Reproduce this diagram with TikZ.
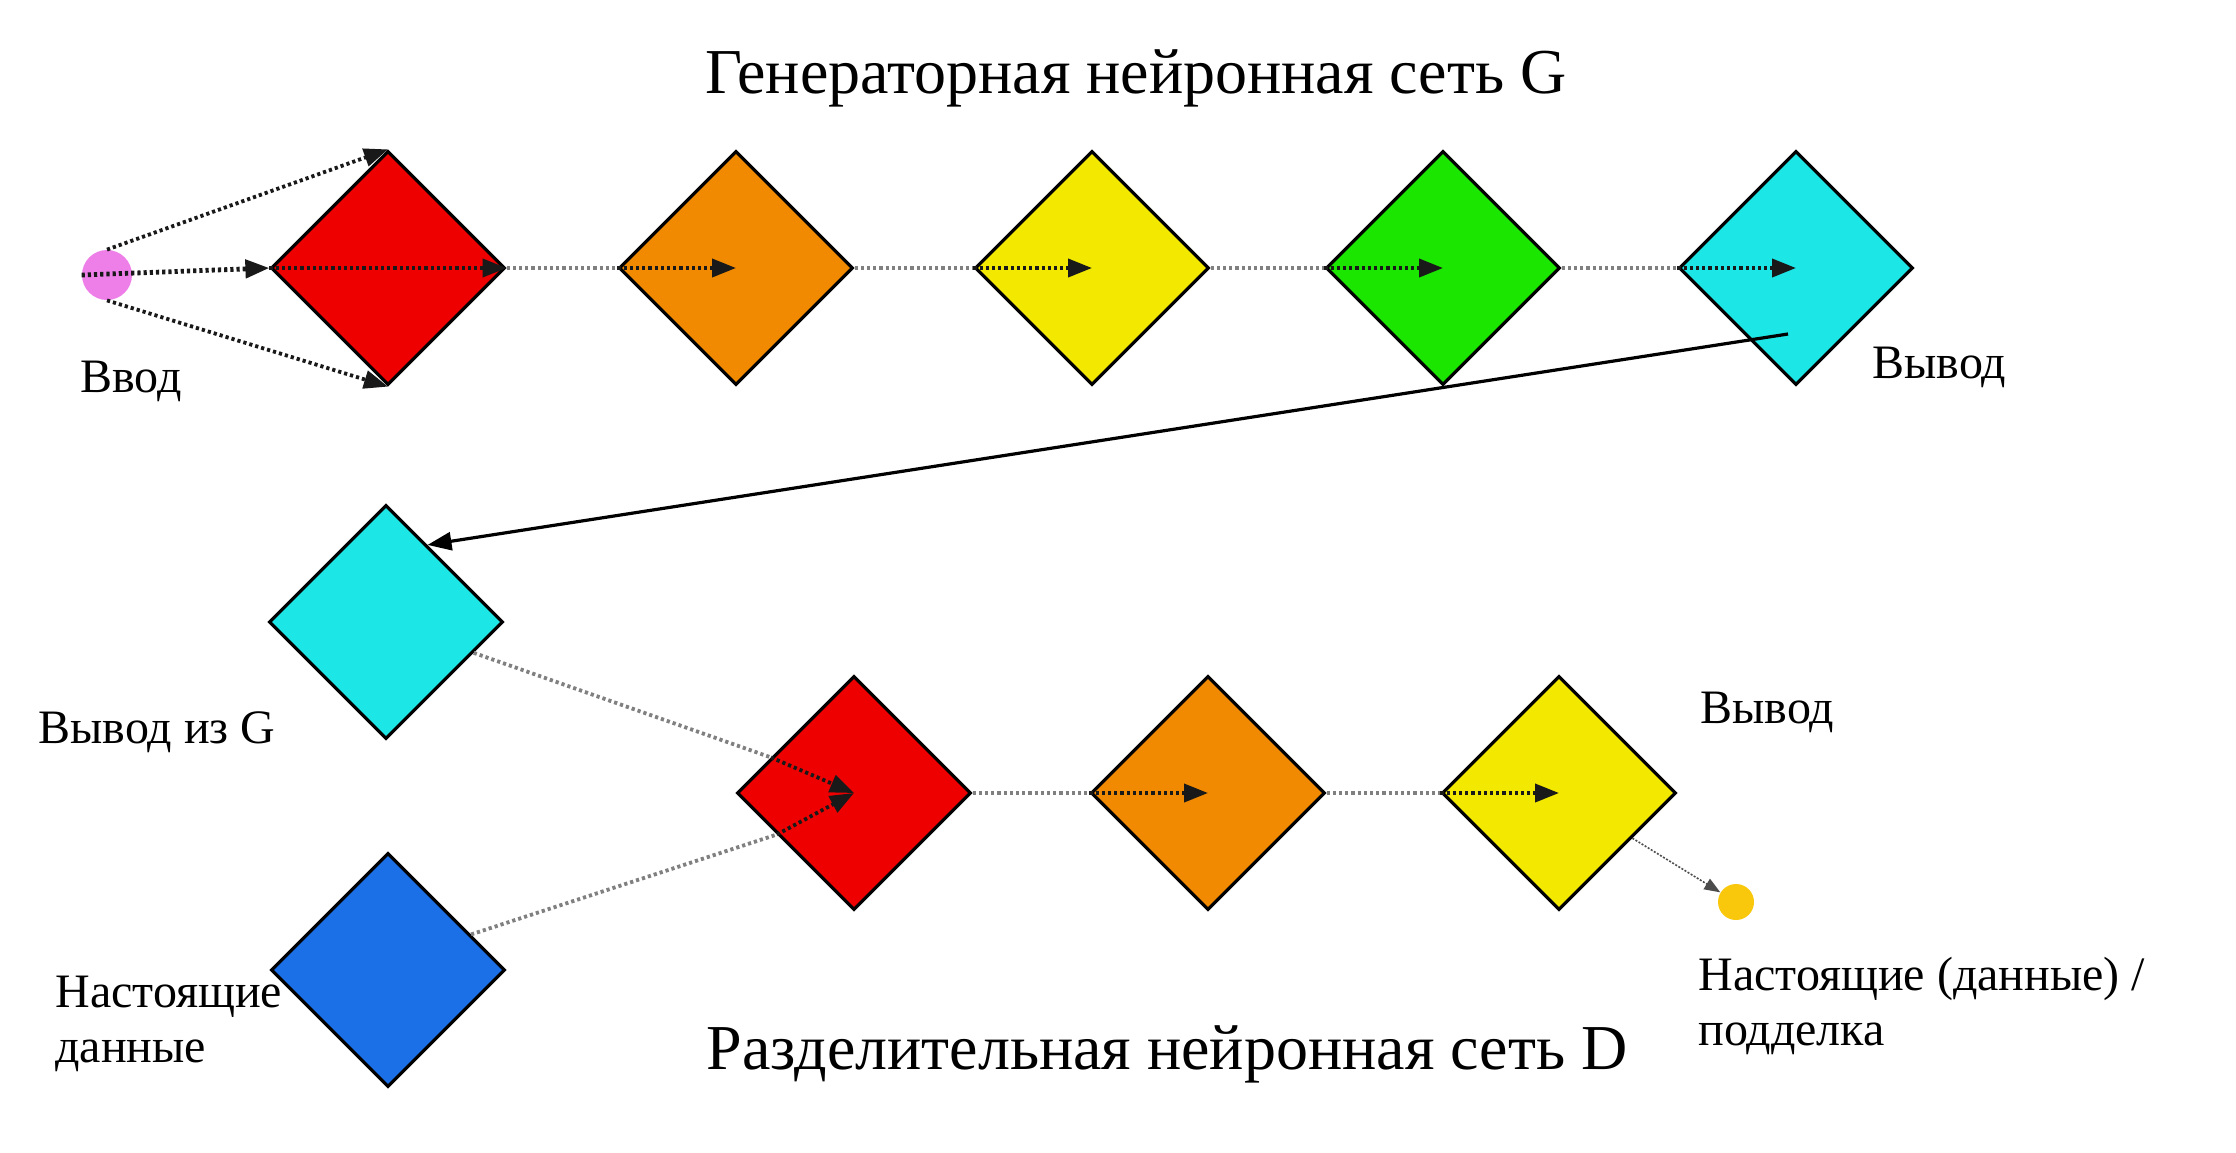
\documentclass[tikz,border=0pt]{standalone}
\usepackage{fontspec}
\setmainfont{Liberation Serif}
\usetikzlibrary{shapes.geometric,arrows.meta,calc}
\definecolor{cred}{HTML}{EE0000}
\definecolor{corange}{HTML}{F18A00}
\definecolor{cyellow}{HTML}{F2E800}
\definecolor{cgreen}{HTML}{1BE600}
\definecolor{ccyan}{HTML}{1CE6E6}
\definecolor{cblue}{HTML}{1B70E8}
\definecolor{cpink}{HTML}{EE7FE8}
\definecolor{cgold}{HTML}{F9C70C}
\tikzset{
  layer/.style={diamond, draw=black, line width=1.6pt, minimum width=117pt, minimum height=117pt, inner sep=0pt, aspect=1},
  dotline/.style={line width=1.9pt, dash pattern=on 1.6pt off 1.5pt},
  dotarrow/.style={dotline, black!90, -{Triangle[length=12pt,width=9pt]}},
  link/.style={dotline, black!50},
  solidarrow/.style={line width=1.6pt, black, -{Triangle[length=12pt,width=9pt]}},
  thinarrow/.style={line width=0.8pt, black!70, dash pattern=on 1pt off 0.8pt, -{Triangle[length=8pt,width=6pt]}},
  lbl/.style={font=\fontsize{24pt}{27.5pt}\selectfont, inner sep=0pt, anchor=base west, align=left},
  ttl/.style={font=\fontsize{32pt}{40pt}\selectfont, inner sep=0pt, anchor=base},
}
\begin{document}
\begin{tikzpicture}[x=0.5pt,y=-0.5pt]
\useasboundingbox (0,0) rectangle (2236,1152);
\fill[white] (0,0) rectangle (2236,1152);

% titles
\node[ttl] (tG) at (1136,93) {Генераторная нейронная сеть G};
\node[ttl] (tD) at (1167,1069) {Разделительная нейронная сеть D};

% generator
\node[circle, fill=cpink, minimum size=25pt, inner sep=0pt] (in) at (107,275) {};
\node[layer, fill=cred] (r1) at (388,268) {};
\node[layer, fill=corange] (o1) at (736,268) {};
\node[layer, fill=cyellow] (y1) at (1092,268) {};
\node[layer, fill=cgreen] (g1) at (1443,268) {};
\node[layer, fill=ccyan] (c1) at (1796,268) {};

% discriminator
\node[layer, fill=ccyan] (c2) at (386,622) {};
\node[layer, fill=cblue] (bl) at (388,970) {};
\node[layer, fill=cred] (r2) at (854,793) {};
\node[layer, fill=corange] (o2) at (1208,793) {};
\node[layer, fill=cyellow] (y2) at (1559,793) {};
\node[circle, fill=cgold, minimum size=18pt, inner sep=0pt] (out) at (1736,902) {};

% labels
\node[lbl] (lin) at (80,392) {Ввод};
\node[lbl] (lout1) at (1872,378) {Вывод};
\node[lbl] (lg) at (38,743) {Вывод из G};
\node[lbl] (lout2) at (1700,723) {Вывод};
\node[lbl] (lreal) at (55,1062) {Настоящие\\данные};
\node[lbl] (lres) at (1698,1045) {Настоящие (данные) /\\подделка};

% generator connectors
\draw[dotarrow] (in.north) -- (r1.north);
\draw[dotarrow] (in.south) -- (r1.south);
\draw[dotarrow, line width=2.4pt] (in.west) -- (r1.west);
\draw[dotarrow] (r1.west) -- (r1.east);
\draw[link] (r1.east) -- (o1.west);
\draw[dotarrow] (o1.west) -- (o1.center);
\draw[link] (o1.east) -- (y1.west);
\draw[dotarrow] (y1.west) -- (y1.center);
\draw[link] (y1.east) -- (g1.west);
\draw[dotarrow] (g1.west) -- (g1.center);
\draw[link] (g1.east) -- (c1.west);
\draw[dotarrow] (c1.west) -- (c1.center);

% generator output to discriminator
\coordinate (c1out) at ($(c1.center)+(-8,66)$);
\draw[solidarrow] (c1out) -- ($(c2.north)!0.35!(c2.east)$);

% discriminator connectors
\draw[link] ($(c2.east)!0.26!(c2.south)$) -- ($(r2.west)!0.3!(r2.north)$);
\draw[dotarrow] ($(r2.west)!0.3!(r2.north)$) -- (r2.center);
\draw[link] ($(bl.east)!0.3!(bl.north)$) -- ($(r2.west)!0.35!(r2.south)$);
\draw[dotarrow] ($(r2.west)!0.35!(r2.south)$) -- (r2.center);
\draw[link] (r2.east) -- (o2.west);
\draw[dotarrow] (o2.west) -- (o2.center);
\draw[link] (o2.east) -- (y2.west);
\draw[dotarrow] (y2.west) -- (y2.center);
\draw[thinarrow] (y2) -- (out);
\end{tikzpicture}
\end{document}
